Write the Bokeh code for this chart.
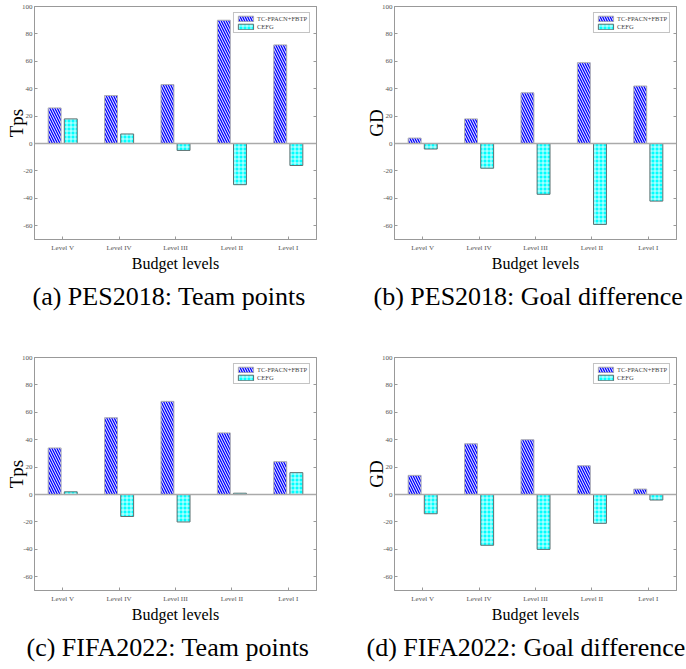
from bokeh.plotting import figure
from bokeh.models import (FactorRange, Range1d, ColumnDataSource, Span, Legend, LegendItem,
                          FixedTicker, LinearAxis, Title)
from bokeh.transform import dodge
from bokeh.layouts import column, row
from bokeh.embed import file_html
from bokeh.resources import INLINE

# ---------------- data ----------------
levels = ["Level V", "Level IV", "Level III", "Level II", "Level I"]
series_names = ["TC-FPACN+FBTP", "CEFG"]

pes_tps_tc = [26, 35, 43, 90, 72]
pes_tps_cefg = [18, 7, -5, -30, -16]
pes_gd_tc = [4, 18, 37, 59, 42]
pes_gd_cefg = [-4, -18, -37, -59, -42]
fifa_tps_tc = [34, 56, 68, 45, 24]
fifa_tps_cefg = [2, -16, -20, 1, 16]
fifa_gd_tc = [14, 37, 40, 21, 4]
fifa_gd_cefg = [-14, -37, -40, -21, -4]

y_ticks = [-60, -40, -20, 0, 20, 40, 60, 80, 100]
y_labels = ["Tps", "GD", "Tps", "GD"]
x_label = "Budget levels"
captions = ["(a) PES2018: Team points", "(b) PES2018: Goal difference",
            "(c) FIFA2022: Team points", "(d) FIFA2022: Goal difference"]

SERIF = "Liberation Serif"
AXIS_COLOR = "#999999"
TICK_TEXT = "#555555"


def make_panel(tc, cefg, ylab, caption, bl, br, bb, cap_offset):
    src = ColumnDataSource(dict(level=levels, tc=tc, cefg=cefg))
    p = figure(x_range=FactorRange(factors=levels, range_padding=0),
               y_range=Range1d(-70, 100), frame_width=282, frame_height=233,
               min_border_left=bl, min_border_right=br, min_border_top=6,
               min_border_bottom=bb, output_backend="svg", toolbar_location=None,
               background_fill_color="white", border_fill_color="white")
    p.xgrid.grid_line_color = None
    p.ygrid.grid_line_color = None
    p.outline_line_color = AXIS_COLOR
    p.outline_line_width = 1

    zero = Span(location=0, dimension="width", line_color="#aaaaaa", line_width=1.5)
    p.add_layout(zero)

    r1 = p.vbar(x=dodge("level", -0.143, range=p.x_range), top="tc", bottom=0,
                width=0.229, source=src, fill_color="#0000ff", line_color="#b0b0b0",
                line_width=1, hatch_pattern="\\", hatch_color="white",
                hatch_scale=5, hatch_weight=1.0)
    r2 = p.vbar(x=dodge("level", 0.143, range=p.x_range), top="cefg", bottom=0,
                width=0.229, source=src, fill_color="#00ffff", line_color="#607070",
                line_width=1, hatch_pattern="+", hatch_color="white",
                hatch_scale=4, hatch_weight=0.8)

    # axes
    for ax in (p.xaxis[0], p.yaxis[0]):
        ax.axis_line_color = AXIS_COLOR
        ax.major_tick_line_color = AXIS_COLOR
        ax.major_tick_in = 3
        ax.major_tick_out = 0
        ax.minor_tick_line_color = None
        ax.major_label_text_font = SERIF
        ax.major_label_text_font_size = "7px"
        ax.major_label_text_color = TICK_TEXT
        ax.axis_label_text_font = SERIF
        ax.axis_label_text_font_style = "normal"
        ax.axis_label_text_color = "black"
    p.yaxis[0].ticker = FixedTicker(ticks=y_ticks)
    p.yaxis[0].major_label_overrides = {t: str(t) for t in y_ticks}
    p.yaxis[0].axis_label = ylab
    p.yaxis[0].axis_label_text_font_size = "19px"
    p.yaxis[0].axis_label_standoff = -8
    p.yaxis[0].major_label_standoff = 2
    p.xaxis[0].axis_label = x_label
    p.xaxis[0].axis_label_text_font_size = "16px"
    p.xaxis[0].axis_label_standoff = 0
    p.xaxis[0].major_label_standoff = 4

    # box ticks on right side (no labels)
    ra = LinearAxis(ticker=FixedTicker(ticks=y_ticks),
                    major_label_overrides={t: "" for t in y_ticks},
                    major_tick_in=3, major_tick_out=0, minor_tick_line_color=None,
                    axis_line_color=AXIS_COLOR, major_tick_line_color=AXIS_COLOR,
                    major_label_standoff=0)
    p.add_layout(ra, "right")

    legend = Legend(items=[LegendItem(label=series_names[0], renderers=[r1]),
                           LegendItem(label=series_names[1], renderers=[r2])],
                    location="top_right", margin=6, padding=2, spacing=1,
                    glyph_width=19, glyph_height=7, label_height=7, label_standoff=2,
                    label_text_font=SERIF, label_text_font_size="6.5px",
                    border_line_color="#888888", border_line_width=1,
                    background_fill_color="white", background_fill_alpha=1)
    p.add_layout(legend)

    cap = Title(text=caption, align="left", offset=cap_offset, text_font=SERIF,
                text_font_size="26px", text_font_style="normal", text_color="black",
                standoff=10)
    p.add_layout(cap, "below")
    return p


pa = make_panel(pes_tps_tc, pes_tps_cefg, y_labels[0], captions[0], 34, 44, 112, -2)
pb = make_panel(pes_gd_tc, pes_gd_cefg, y_labels[1], captions[1], 34, 10, 112, -21)
pc = make_panel(fifa_tps_tc, fifa_tps_cefg, y_labels[2], captions[2], 34, 44, 0, -8)
pd = make_panel(fifa_gd_tc, fifa_gd_cefg, y_labels[3], captions[3], 34, 10, 0, -28)

layout = column(row(pa, pb), row(pc, pd))

open("out.html", "w").write(file_html(layout, INLINE))
